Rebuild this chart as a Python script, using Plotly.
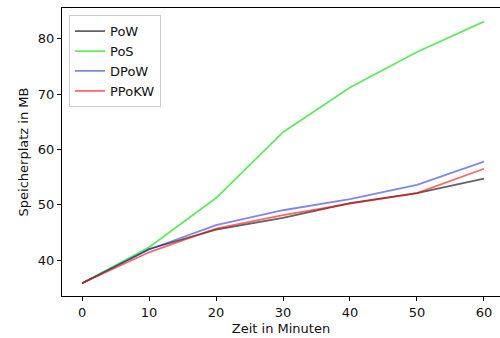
import plotly.graph_objects as go

minutes = [0, 10, 20, 30, 40, 50, 60]
pow_mb = [35.8, 42.0, 45.5, 47.6, 50.3, 52.1, 54.7]
pos_mb = [35.8, 42.3, 51.2, 63.1, 71.2, 77.6, 83.1]
dpow_mb = [35.8, 41.9, 46.3, 49.0, 51.0, 53.6, 57.8]
ppokw_mb = [35.8, 41.4, 45.7, 48.1, 50.2, 52.1, 56.5]

series = [
    ("PoW", pow_mb, "rgba(0,0,0,0.62)"),
    ("PoS", pos_mb, "rgba(0,220,0,0.62)"),
    ("DPoW", dpow_mb, "rgba(20,40,210,0.55)"),
    ("PPoKW", ppokw_mb, "rgba(255,0,0,0.6)"),
]

fig = go.Figure()
for name, vals, col in series:
    fig.add_trace(go.Scatter(x=minutes, y=vals, mode="lines", name=name,
                             line=dict(color=col, width=1.8)))

txt = dict(family="DejaVu Sans", size=13, color="#111")
fig.update_layout(
    width=500, height=338,
    margin=dict(l=62, r=0, t=8, b=42),
    paper_bgcolor="white", plot_bgcolor="white",
    font=txt,
    showlegend=True,
    legend=dict(x=0.016, y=0.975, xanchor="left", yanchor="top",
                bgcolor="rgba(255,255,255,0.8)", bordercolor="#cccccc", borderwidth=1,
                font=dict(family="DejaVu Sans", size=13, color="#111"),
                tracegroupgap=0, itemwidth=30),
    xaxis=dict(range=[-3, 62.4], tickvals=[0, 10, 20, 30, 40, 50, 60],
               showgrid=False, zeroline=False, showline=True, mirror=True,
               linecolor="black", linewidth=1.2, tickfont=txt,
               ticks="outside", ticklen=4, tickcolor="black",
               title=dict(text="Zeit in Minuten", standoff=5, font=txt)),
    yaxis=dict(range=[33.5, 85.55], tickvals=[40, 50, 60, 70, 80],
               showgrid=False, zeroline=False, showline=True, mirror=False,
               linecolor="black", linewidth=1.2, tickfont=txt,
               ticks="outside", ticklen=4, tickcolor="black",
               title=dict(text="Speicherplatz in MB", standoff=6, font=txt)),
)

fig.write_html("out.html")
